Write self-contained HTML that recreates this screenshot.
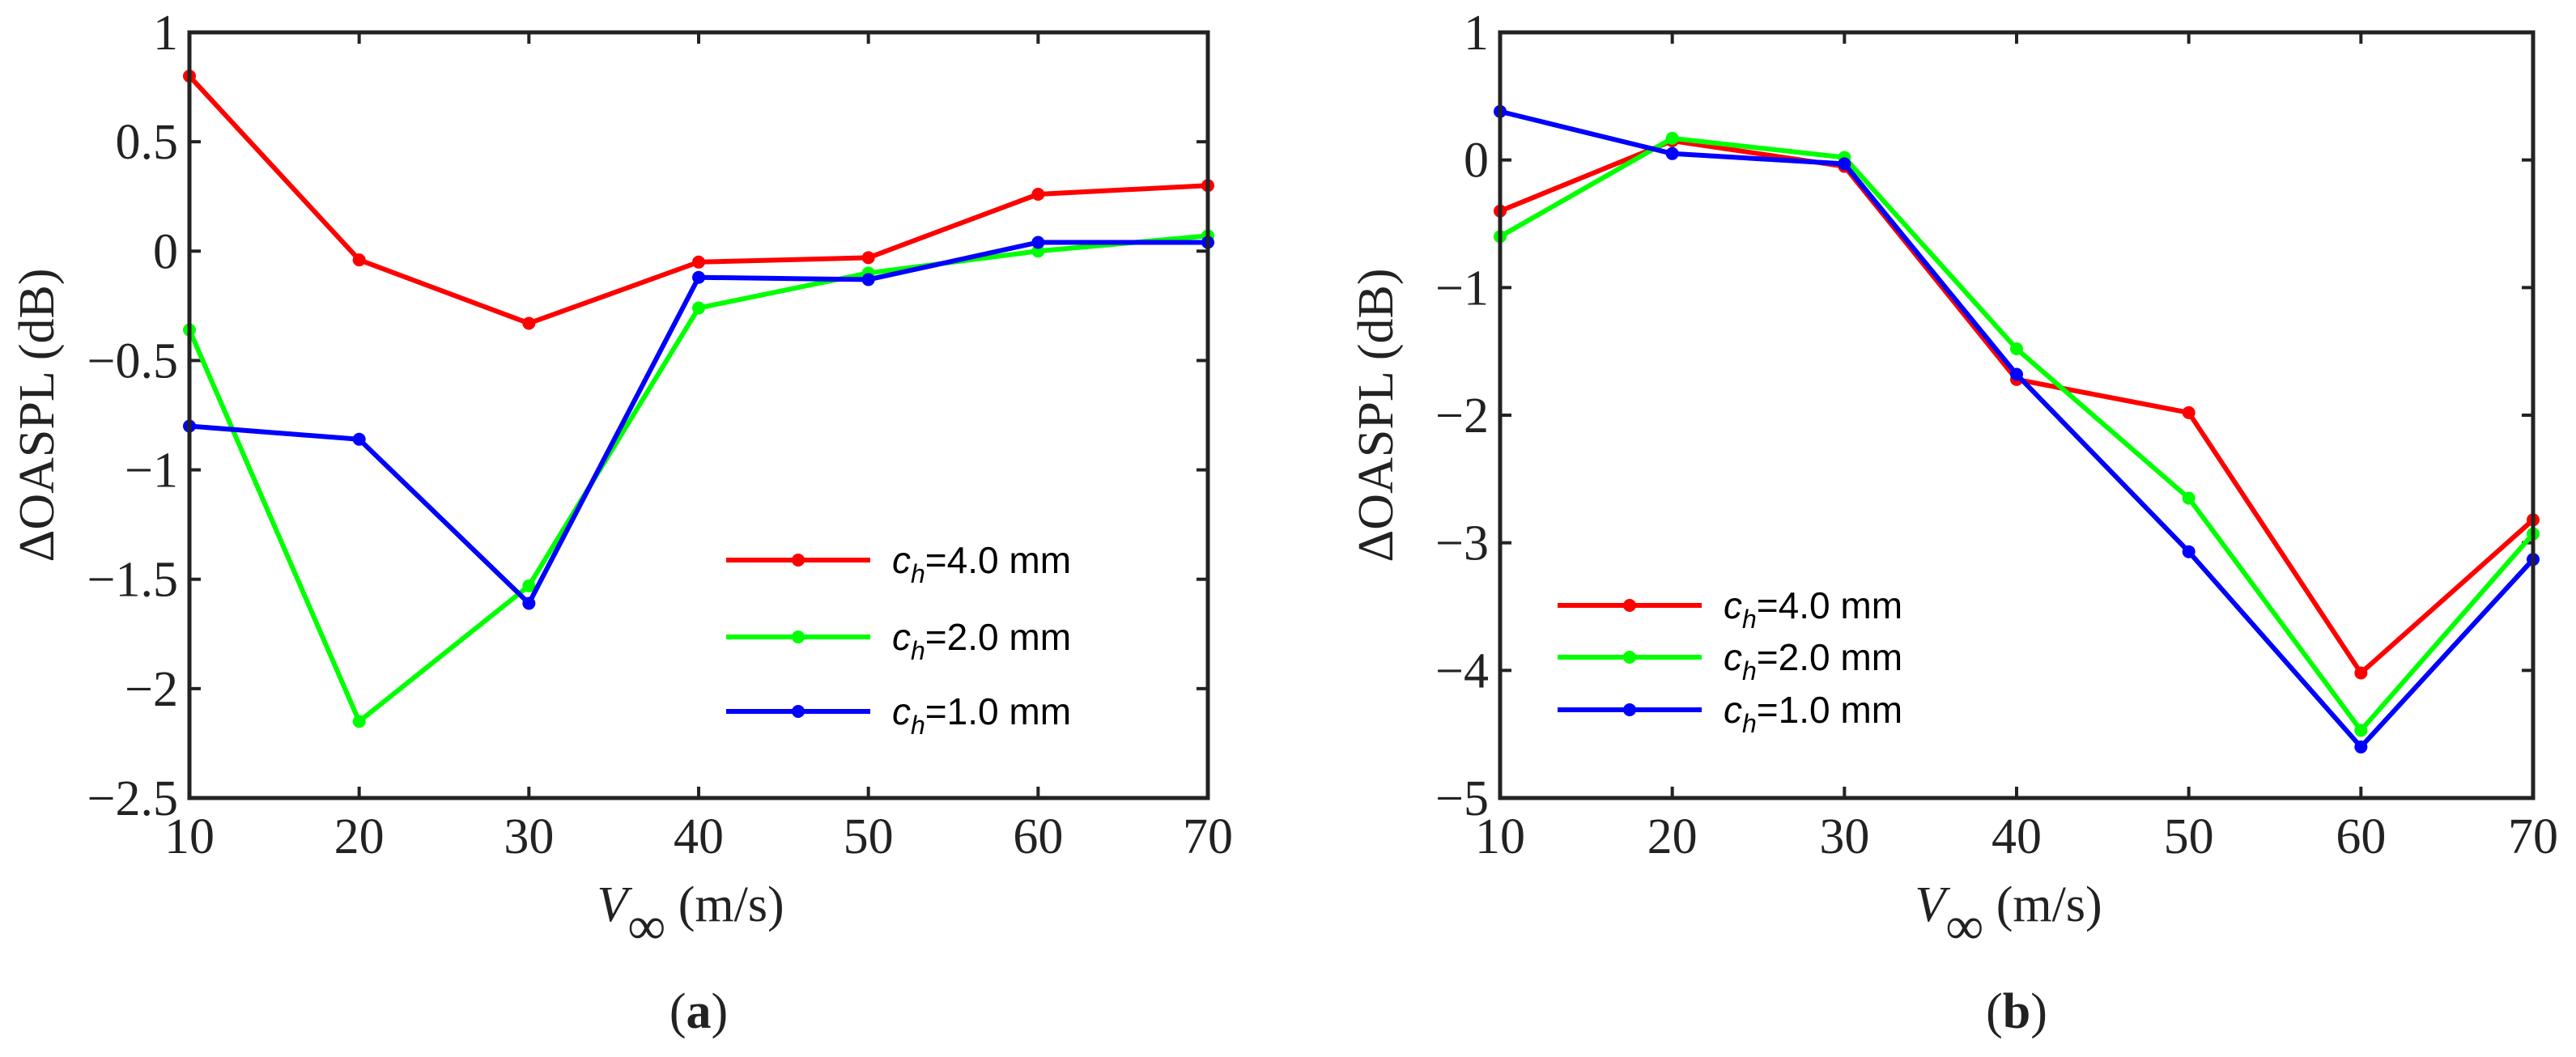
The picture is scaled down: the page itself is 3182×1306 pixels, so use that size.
<!DOCTYPE html>
<html><head><meta charset="utf-8"><style>
html,body{margin:0;padding:0;background:#fff;}
svg{display:block;}
.tick{font-family:"Liberation Serif",serif;font-size:62px;fill:#222;}
.lab{font-family:"Liberation Serif",serif;font-size:62px;fill:#222;}
.leg{font-family:"Liberation Sans",sans-serif;font-size:46px;fill:#000;}
</style></head><body>
<svg id="fig" width="3182" height="1306" viewBox="0 0 3182 1306" xmlns="http://www.w3.org/2000/svg"></svg>
<script>
const xCats=[10,20,30,40,50,60,70];
const aRed=[0.8,-0.04,-0.33,-0.05,-0.03,0.26,0.3];
const aGreen=[-0.36,-2.15,-1.53,-0.26,-0.1,0.0,0.07];
const aBlue=[-0.8,-0.86,-1.61,-0.12,-0.13,0.04,0.04];
const bRed=[-0.4,0.15,-0.05,-1.72,-1.98,-4.02,-2.82];
const bGreen=[-0.6,0.17,0.02,-1.48,-2.65,-4.47,-2.93];
const bBlue=[0.38,0.05,-0.03,-1.68,-3.07,-4.6,-3.13];
const aYTicks=[1,0.5,0,-0.5,-1,-1.5,-2,-2.5];
const aYLabels=["1","0.5","0","\u22120.5","\u22121","\u22121.5","\u22122","\u22122.5"];
const bYTicks=[1,0,-1,-2,-3,-4,-5];
const bYLabels=["1","0","\u22121","\u22122","\u22123","\u22124","\u22125"];
const legendLabels=["4.0 mm","2.0 mm","1.0 mm"];

const NS="http://www.w3.org/2000/svg";
const svg=document.getElementById('fig');
function mk(tag,attrs,parent){const e=document.createElementNS(NS,tag);for(const k in attrs)e.setAttribute(k,attrs[k]);(parent||svg).appendChild(e);return e;}

function panel(o){
  const g=mk('g',{});
  
  
  const X=v=>o.x0+(v-10)/60*(o.x1-o.x0);
  const Y=v=>o.y1-(v-o.ymin)/(o.ymax-o.ymin)*(o.y1-o.y0);
  xCats.forEach(v=>{
    const x=X(v);
    const t1=mk('line',{x1:x,x2:x,y1:o.y1,y2:o.y1-14,stroke:'#222','stroke-width':4},g);
    
    
    mk('line',{x1:x,x2:x,y1:o.y0,y2:o.y0+14,stroke:'#222','stroke-width':4},g);
    const tl=mk('text',{x:x,y:1054,'text-anchor':'middle',class:'tick'},g);
    tl.textContent=String(v);
    
    
  });
  o.yt.forEach((v,i)=>{
    const y=Y(v);
    mk('line',{x1:o.x0,x2:o.x0+14,y1:y,y2:y,stroke:'#222','stroke-width':4},g);
    mk('line',{x1:o.x1,x2:o.x1-14,y1:y,y2:y,stroke:'#222','stroke-width':4},g);
    const tl=mk('text',{x:o.x0-14,y:y+21,'text-anchor':'end',class:'tick'},g);
    tl.textContent=o.yl[i];
    
    
  });
  o.series.forEach(s=>{
    const pts=s.d.map((v,i)=>X(xCats[i])+','+Y(v)).join(' ');
    const pl=mk('polyline',{points:pts,fill:'none',stroke:s.c,'stroke-width':6,'stroke-linejoin':'round'},g);
    
    
    s.d.forEach((v,i)=>{
      const c=mk('circle',{cx:X(xCats[i]),cy:Y(v),r:8,fill:s.c},g);
      
      
    });
  });
  const box=mk('rect',{x:o.x0,y:o.y0,width:o.x1-o.x0,height:o.y1-o.y0,fill:'none',stroke:'#222','stroke-width':5},g);
  
  
  o.series.forEach((s,i)=>{
    const y=o.legY[i];
    const lg=mk('g',{},g);
    
    
    mk('line',{x1:o.legX,x2:o.legX+178,y1:y,y2:y,stroke:s.c,'stroke-width':6},lg);
    mk('circle',{cx:o.legX+89,cy:y,r:8,fill:s.c},lg);
    const t=mk('text',{x:o.legX+205,y:y+16,class:'leg'},lg);
    t.innerHTML='<tspan font-style="italic">c</tspan><tspan font-style="italic" font-size="32" dy="12">h</tspan><tspan dy="-12">='+legendLabels[i]+'</tspan>';
  });
  const cx=(o.x0+o.x1)/2, cy=(o.y0+o.y1)/2;
  const xl=mk('text',{x:cx-10,y:1138,'text-anchor':'middle',class:'lab'},g);
  xl.innerHTML='<tspan font-style="italic">V</tspan><tspan font-size="66" dy="28">\u221e</tspan><tspan dy="-28"> (m/s)</tspan>';
  
  
  const yl=mk('text',{x:o.ylx,y:cy,'text-anchor':'middle',class:'lab',transform:'rotate(-90 '+o.ylx+' '+cy+')'},g);
  yl.textContent='\u0394OASPL (dB)';
  
  
  const pt=mk('text',{x:cx,y:1270,'text-anchor':'middle',class:'lab','font-size':'72'},g);
  pt.innerHTML='(<tspan font-weight="bold">'+o.tag+'</tspan>)';
  
  
}
panel({name:'panel-a',tag:'a',x0:234,x1:1492,y0:40,y1:986,ymin:-2.5,ymax:1,yt:aYTicks,yl:aYLabels,ylx:66,
  legX:897,legY:[692,787,879],
  series:[{d:aRed,c:'#ff0000',n:'line-ch-4mm'},{d:aGreen,c:'#00ff00',n:'line-ch-2mm'},{d:aBlue,c:'#0000ff',n:'line-ch-1mm'}]});
panel({name:'panel-b',tag:'b',x0:1853,x1:3129,y0:40,y1:986,ymin:-5,ymax:1,yt:bYTicks,yl:bYLabels,ylx:1720,
  legX:1924,legY:[748,812,877],
  series:[{d:bRed,c:'#ff0000',n:'line-ch-4mm'},{d:bGreen,c:'#00ff00',n:'line-ch-2mm'},{d:bBlue,c:'#0000ff',n:'line-ch-1mm'}]});
</script>
</body></html>
